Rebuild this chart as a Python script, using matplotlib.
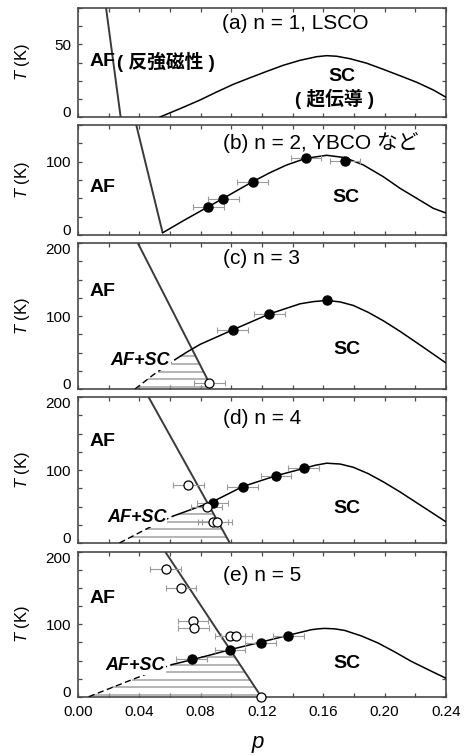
import numpy as np
import matplotlib
matplotlib.use('Agg')
import matplotlib.pyplot as plt
from matplotlib.ticker import MultipleLocator, FormatStrFormatter

plt.rcParams['font.family'] = ['Liberation Sans', 'Noto Sans CJK JP']
plt.rcParams['mathtext.fontset'] = 'custom'
plt.rcParams['mathtext.it'] = 'Liberation Sans:italic'
plt.rcParams['mathtext.rm'] = 'Liberation Sans'

# ---------------- data ----------------
titles = ['(a) n = 1, LSCO', '(b) n = 2, YBCO など', '(c) n = 3', '(d) n = 4', '(e) n = 5']
T_top = [75, 150, 200, 200, 200]

# AF boundary lines
af_a_p = [0.0183, 0.0278]; af_a_T = [75, 0]
af_b_p = [0.038, 0.0552];  af_b_T = [150, 3]
af_c_p = [0.039, 0.0857];  af_c_T = [200, 8]
af_d_p = [0.046, 0.099];   af_d_T = [200, 0]
af_e_p = [0.057, 0.1195];  af_e_T = [200, 0]

# SC domes (solid part)
sc_a_p = [0.0535, 0.0687, 0.0796, 0.0904, 0.1013, 0.1122, 0.1231, 0.1339, 0.1448, 0.1557,
          0.1622, 0.1687, 0.1774, 0.1883, 0.1991, 0.2100, 0.2209, 0.2317, 0.24]
sc_a_T = [0, 6.7, 11.7, 17.2, 22.5, 27, 31.4, 35.6, 39, 41.5,
          42.2, 41.8, 40.1, 37, 32.8, 28.4, 23.9, 18.6, 13.6]
sc_b_p = [0.0552, 0.0687, 0.0850, 0.0948, 0.1035, 0.1139, 0.1252, 0.1361, 0.1487, 0.1622,
          0.1741, 0.1861, 0.1991, 0.2100, 0.2209, 0.2317, 0.24]
sc_b_T = [3, 19.5, 38.6, 50, 60.4, 72.7, 85, 95.5, 104.6, 108.7,
          105.5, 95.5, 79.5, 63.7, 50, 36.4, 30]
sc_c_p = [0.0633, 0.0715, 0.0796, 0.1009, 0.1248, 0.1448, 0.1535, 0.1622, 0.1709, 0.1796,
          0.1893, 0.1991, 0.2100, 0.2209, 0.2305, 0.24]
sc_c_T = [40.3, 51.2, 61.1, 81, 102.8, 116.7, 119.7, 121.3, 119.3, 114.4,
          105, 93.5, 79, 63.4, 49.5, 35.6]
sc_d_p = [0.0622, 0.0878, 0.1074, 0.1291, 0.1474, 0.1548, 0.1622, 0.1709, 0.1796, 0.1893,
          0.1991, 0.2100, 0.2209, 0.2305, 0.24]
sc_d_T = [37.0, 56.5, 77.3, 92.1, 102.3, 106.5, 109.3, 108.2, 103.7, 95,
          83.8, 70, 55.1, 42, 29]
sc_e_p = [0.0609, 0.0743, 0.0869, 0.0992, 0.1185, 0.1370, 0.1522, 0.1566, 0.1609, 0.1674,
          0.1739, 0.1848, 0.1957, 0.2065, 0.2174, 0.2287, 0.24]
sc_e_T = [44.2, 51.1, 58, 65, 75, 84.8, 92.6, 93.8, 94.4, 93.8,
          91.6, 84, 74.2, 62, 48.8, 37, 25.5]

# SC domes (dashed extrapolation)
dash_c_p = [0.0372, 0.0491, 0.0633]; dash_c_T = [0, 19.4, 40.3]
dash_d_p = [0.027, 0.047, 0.0622];   dash_d_T = [0, 21.8, 37.0]
dash_e_p = [0.007, 0.0413, 0.0609];  dash_e_T = [0, 28.6, 44.2]

# measured points
b_fill_p = [0.0850, 0.0948, 0.1139, 0.1487, 0.1741]
b_fill_T = [38.6, 49.1, 72.7, 104.6, 101.4]
b_fill_err = [0.01, 0.01, 0.01, 0.01, 0.01]

c_fill_p = [0.1009, 0.1248, 0.1622]
c_fill_T = [81, 102.8, 121.3]
c_fill_err = [0.01, 0.01, 0.0]
c_open_p = [0.0857]
c_open_T = [8]
c_open_err = [0.01]

d_fill_p = [0.0878, 0.1074, 0.1291, 0.1472]
d_fill_T = [55.1, 77.3, 91.6, 102.5]
d_fill_err = [0.01, 0.01, 0.01, 0.01]
d_open_p = [0.0719, 0.0839, 0.0881, 0.0907]
d_open_T = [79.6, 49, 29, 29]
d_open_err = [0.01, 0.01, 0.01, 0.01]

e_fill_p = [0.0742, 0.0992, 0.1191, 0.1372]
e_fill_T = [52, 64.8, 74.8, 84.5]
e_fill_err = [0.01, 0.01, 0.01, 0.01]
e_open_p = [0.0572, 0.0672, 0.0750, 0.0754, 0.0992, 0.1033, 0.1193]
e_open_T = [176, 150, 105, 94.5, 84, 84, 0]
e_open_err = [0.01, 0.01, 0.01, 0.01, 0.01, 0.01, 0.0]

panels = [
    dict(af=(af_a_p, af_a_T), sc=(sc_a_p, sc_a_T), dash=None, fill=None, open=None),
    dict(af=(af_b_p, af_b_T), sc=(sc_b_p, sc_b_T), dash=None,
         fill=(b_fill_p, b_fill_T, b_fill_err), open=None),
    dict(af=(af_c_p, af_c_T), sc=(sc_c_p, sc_c_T), dash=(dash_c_p, dash_c_T),
         fill=(c_fill_p, c_fill_T, c_fill_err), open=(c_open_p, c_open_T, c_open_err)),
    dict(af=(af_d_p, af_d_T), sc=(sc_d_p, sc_d_T), dash=(dash_d_p, dash_d_T),
         fill=(d_fill_p, d_fill_T, d_fill_err), open=(d_open_p, d_open_T, d_open_err)),
    dict(af=(af_e_p, af_e_T), sc=(sc_e_p, sc_e_T), dash=(dash_e_p, dash_e_T),
         fill=(e_fill_p, e_fill_T, e_fill_err), open=(e_open_p, e_open_T, e_open_err)),
]

# ---------------- layout / style ----------------
W, H = 468, 756
fig = plt.figure(figsize=(W / 100, H / 100), dpi=100)
left, right = 78, 446
frames = [(8, 117), (125, 235), (243, 389), (397, 543), (552, 696.7)]
y_major = [50, 100, 100, 100, 100]
y_minor = [12.5, 25, 25, 25, 25]
hatch_start = [None, None, 3.0, 8.5, 2.5]
hatch_step = 10.4
frame_col = '#4a4a4a'
af_col = '#3a3a3a'
hatch_col = '#a0a0a0'
err_col = '#9a9a9a'

# label positions (data coords)
title_pos = [(0.0937, 64), (0.0943, 126), (0.0945, 179), (0.0945, 171), (0.0945, 168)]
af_pos = [(0.0078, 38), (0.0078, 64.6), (0.0078, 133), (0.0078, 138.5), (0.0078, 136)]
sc_pos = [(0.1719, 28), (0.1747, 50.5), (0.1752, 54), (0.1752, 47), (0.1752, 46)]
afsc_pos = [None, None, (0.0600, 39), (0.0578, 34.3), (0.0567, 42.7)]

axes = []
for i, (top, bot) in enumerate(frames):
    ax = fig.add_axes([left / W, 1 - bot / H, (right - left) / W, (bot - top) / H])
    axes.append(ax)
    pdat = panels[i]
    ax.set_xlim(0, 0.24)
    ax.set_ylim(0, T_top[i])

    # AF line
    ax.plot(pdat['af'][0], pdat['af'][1], color=af_col, lw=1.4, zorder=3, solid_capstyle='butt')
    # SC dome
    ax.plot(pdat['sc'][0], pdat['sc'][1], color='black', lw=1.1, zorder=3,
            solid_joinstyle='round')
    if pdat['dash'] is not None:
        ax.plot(pdat['dash'][0], pdat['dash'][1], color='black', lw=1.0,
                linestyle=(0, (4.5, 2.5)), zorder=3)
        # hatch between rising SC curve and AF line
        rise_p = np.concatenate([pdat['dash'][0], pdat['sc'][0]])
        rise_T = np.concatenate([pdat['dash'][1], pdat['sc'][1]])
        k = int(np.argmax(rise_T))
        rise_p, rise_T = rise_p[:k + 1], rise_T[:k + 1]
        afp = np.array(pdat['af'][0]); afT = np.array(pdat['af'][1])
        o = np.argsort(afT)
        L = hatch_start[i]
        while L < T_top[i]:
            lp = np.interp(L, rise_T, rise_p)
            rp = np.interp(L, afT[o], afp[o])
            if rp <= lp:
                break
            ax.hlines(L, lp, rp, color=hatch_col, lw=1.1, zorder=2)
            L += hatch_step

    if pdat['fill'] is not None:
        fp, fT, fe = pdat['fill']
        ax.errorbar(fp, fT, xerr=fe, fmt='none', ecolor=err_col, elinewidth=0.8,
                    capsize=2.5, capthick=0.8, zorder=4)
        ax.plot(fp, fT, 'o', ms=6.5, mfc='black', mec='black', zorder=6)
    if pdat['open'] is not None:
        op, oT, oe = pdat['open']
        ax.errorbar(op, oT, xerr=oe, fmt='none', ecolor=err_col, elinewidth=0.8,
                    capsize=2.5, capthick=0.8, zorder=4)
        ax.plot(op, oT, 'o', ms=6.5, mfc='white', mec='black', mew=0.9, zorder=6,
                clip_on=False)

    # texts
    ax.text(title_pos[i][0], title_pos[i][1], titles[i], fontsize=15, ha='left', va='center')
    ax.text(af_pos[i][0], af_pos[i][1], 'AF', fontsize=14, fontweight='bold',
            ha='left', va='center')
    ax.text(sc_pos[i][0], sc_pos[i][1], 'SC', fontsize=14, fontweight='bold',
            ha='center', va='center')
    if afsc_pos[i] is not None:
        ax.text(afsc_pos[i][0], afsc_pos[i][1], 'AF+SC', fontsize=13, fontweight='bold',
                fontstyle='italic', ha='right', va='center', zorder=5,
                bbox=dict(facecolor='white', edgecolor='none', pad=0.5))

    # ticks / spines
    ax.xaxis.set_major_locator(MultipleLocator(0.04))
    ax.xaxis.set_minor_locator(MultipleLocator(0.02))
    ax.yaxis.set_major_locator(MultipleLocator(y_major[i]))
    ax.yaxis.set_minor_locator(MultipleLocator(y_minor[i]))
    ax.tick_params(which='both', direction='in', top=True, right=True,
                   length=3, width=0.9, color=frame_col, labelsize=11, pad=5)
    for s in ax.spines.values():
        s.set_color(frame_col)
        s.set_linewidth(1.2)
    ax.set_ylabel(r'$T$ (K)', fontsize=12)
    ax.yaxis.set_label_coords(-0.125, 0.5)
    if i < 4:
        ax.tick_params(labelbottom=False)
    else:
        ax.xaxis.set_major_formatter(FormatStrFormatter('%.2f'))
        ax.tick_params(axis='x', pad=6)

fig.canvas.draw()
for i, ax in enumerate(axes):
    for lab in ax.get_yticklabels():
        v = lab.get_position()[1]
        if abs(v) < 1e-9:
            lab.set_va('baseline')
        elif abs(v - T_top[i]) < 1e-9:
            lab.set_va('top')

# panel (a) extra Japanese annotations
axes[0].text(0.0252, 38, '( 反強磁性 )', fontsize=13.5, fontweight='bold', ha='left', va='center')
axes[0].text(0.1676, 12.5, '( 超伝導 )', fontsize=13.5, fontweight='bold', ha='center', va='center')

axes[4].set_xlabel(r'$p$', fontsize=16)
axes[4].xaxis.set_label_coords(0.49, -0.26)

fig.savefig('out.png', dpi=100)
